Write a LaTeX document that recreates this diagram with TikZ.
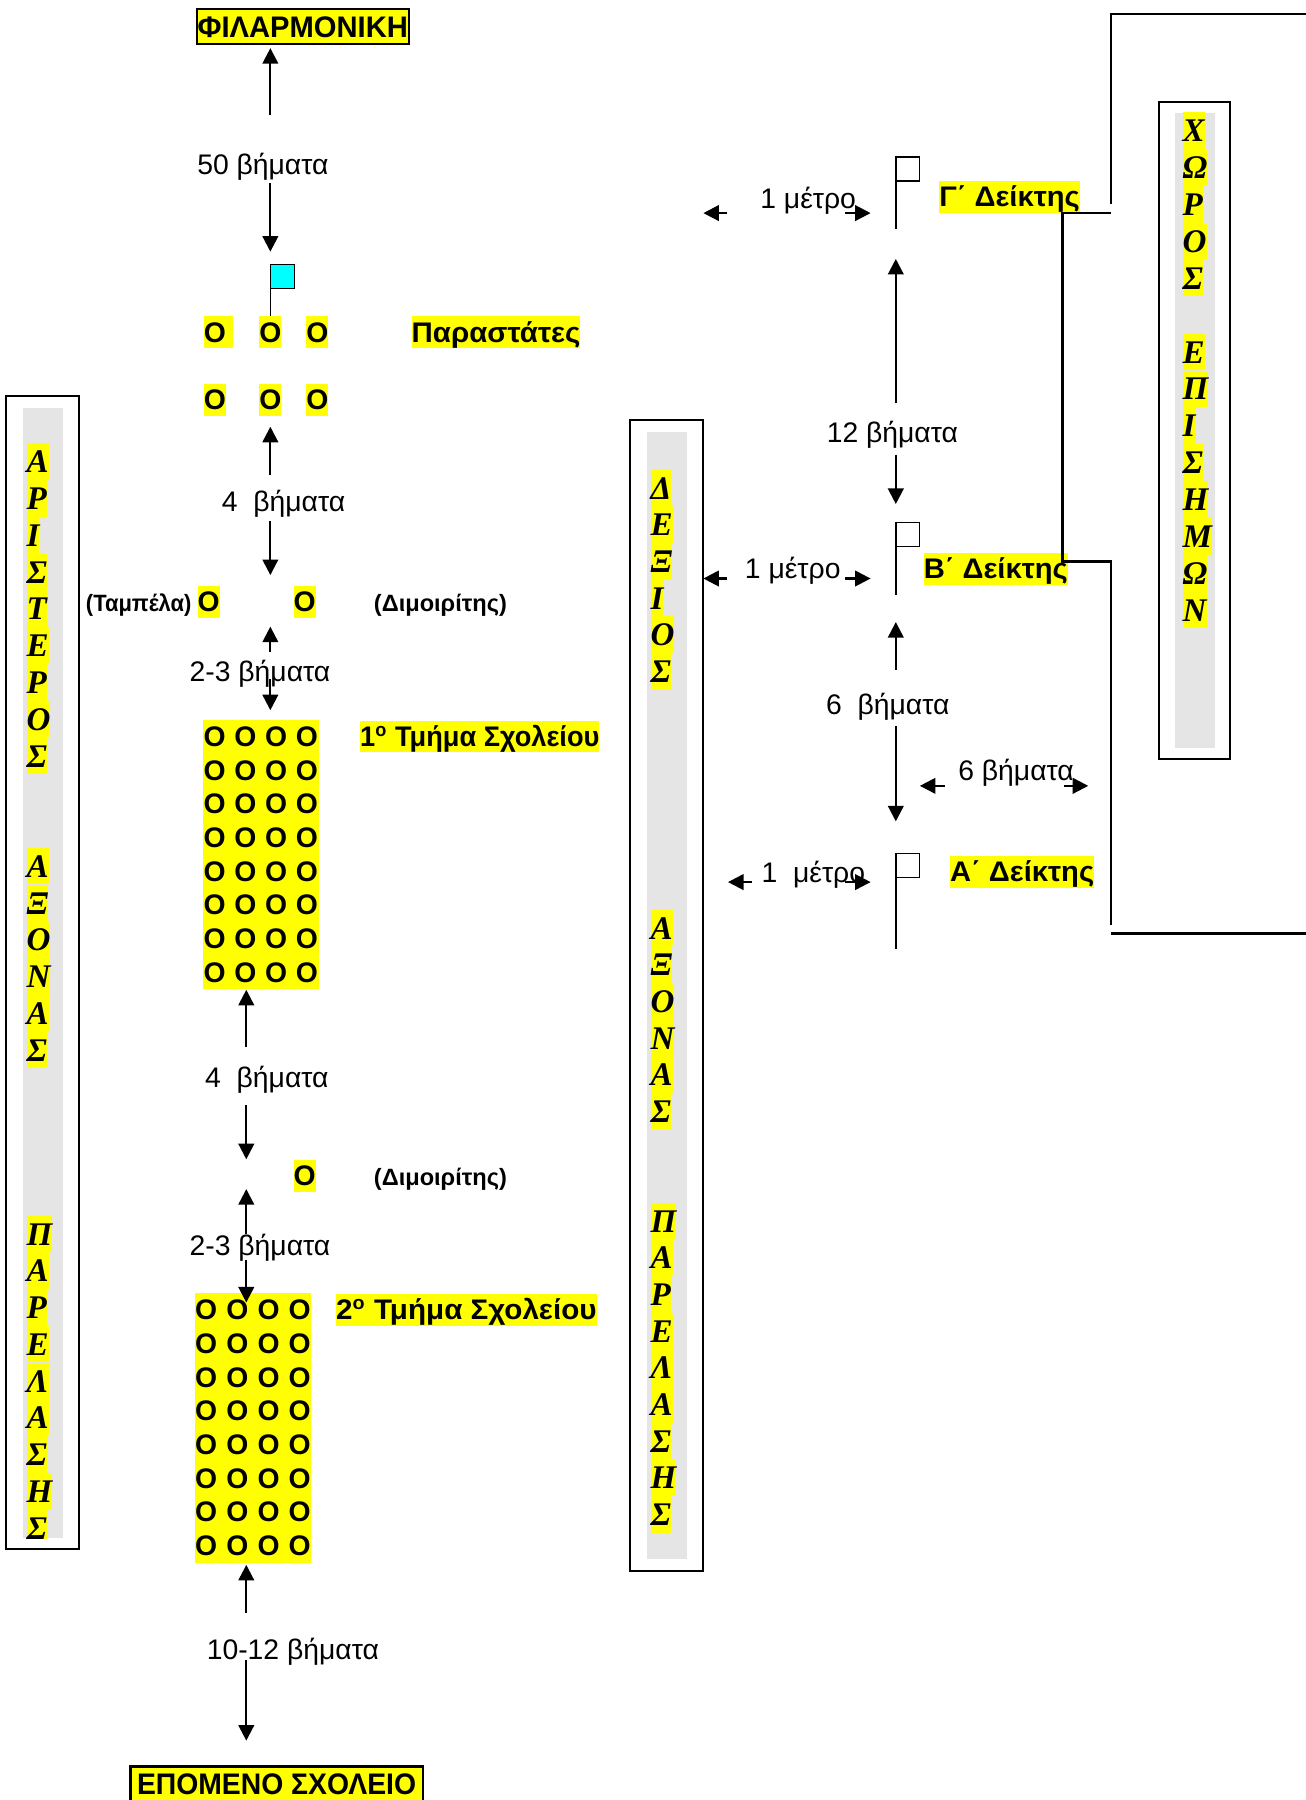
\documentclass[tikz,border=0pt]{standalone}
\usepackage{fontspec}
\usepackage{graphicx}
\setmainfont{Liberation Sans}
\newfontfamily\tmsfont{Liberation Serif}
\usetikzlibrary{arrows.meta}
\definecolor{hlyellow}{RGB}{255,255,0}
\definecolor{boxgray}{RGB}{229,229,229}
\definecolor{flagcyan}{RGB}{0,255,255}
\begin{document}
\begin{tikzpicture}[x=0.4854pt, y=-0.4854pt,
  txt/.style={inner sep=0pt, text height=10.9pt, text depth=2.5pt, font=\fontsize{12}{14}\selectfont},
  hl/.style={txt, fill=hlyellow, font=\fontsize{12}{14}\selectfont\bfseries},
  smalllbl/.style={inner sep=0pt, font=\fontsize{10}{12}\selectfont\bfseries},
  titlebox/.style={draw, line width=0.9pt, fill=hlyellow, inner sep=0pt, minimum height=14.9pt, font=\fontsize{12}{14}\selectfont\bfseries},
  ob/.style={inner sep=0pt, font=\fontsize{12}{14}\selectfont\bfseries},
  vl/.style={fill=hlyellow, inner sep=0pt, anchor=west, text height=12.47pt, text depth=3.02pt, font=\tmsfont\fontsize{14}{16}\selectfont\bfseries\itshape},
  arr/.style={line width=0.95pt, -{Triangle[length=6.6pt,width=6.6pt]}},
  wall/.style={line width=1.1pt},
  pole/.style={line width=0.6pt},
  flagsq/.style={draw, line width=0.6pt, fill=white},
  vbox/.style={draw, line width=0.8pt, fill=white},
  graycol/.style={fill=boxgray},
]
\useasboundingbox (0,0) rectangle (1140,1571.3);

% ---------- vertical boxes ----------
\draw[vbox] (5.5,345.7) rectangle (68.7,1352);
\fill[graycol] (20,356) rectangle (55,1342.6);
\begin{scope}
\clip (20,356) rectangle (55,1342.6);
\foreach \c [count=\i from 0] in {Α,Ρ,Ι,Σ,Τ,Ε,Ρ,Ο,Σ}
  \node[vl, name=la\i] at (22.8,403+\i*32.1) {\c};
\foreach \c [count=\i from 11] in {Α,Ξ,Ο,Ν,Α,Σ}
  \node[vl, name=la\i] at (22.8,403+\i*32.1) {\c};
\foreach \c [count=\i from 21] in {Π,Α,Ρ,Ε,Λ,Α,Σ,Η,Σ}
  \node[vl, name=la\i] at (22.8,403+\i*32.1) {\c};
\end{scope}

\draw[vbox] (550,367) rectangle (614,1371);
\fill[graycol] (564.5,377) rectangle (599.5,1361);
\foreach \c [count=\i from 0] in {Δ,Ε,Ξ,Ι,Ο,Σ}
  \node[vl, name=ma\i] at (567.5,426+\i*32) {\c};
\foreach \c [count=\i from 12] in {Α,Ξ,Ο,Ν,Α,Σ}
  \node[vl, name=ma\i] at (567.5,426+\i*32) {\c};
\foreach \c [count=\i from 20] in {Π,Α,Ρ,Ε,Λ,Α,Σ,Η,Σ}
  \node[vl, name=ma\i] at (567.5,426+\i*32) {\c};

\draw[vbox] (1012,89) rectangle (1074,662.6);
\fill[graycol] (1026,99) rectangle (1061,653);
\foreach \c [count=\i from 0] in {Χ,Ω,Ρ,Ο,Σ}
  \node[vl, name=ra\i] at (1032,114+\i*32.2) {\c};
\foreach \c [count=\i from 6] in {Ε,Π,Ι,Σ,Η,Μ,Ω,Ν}
  \node[vl, name=ra\i] at (1032,114+\i*32.2) {\c};

% ---------- left column ----------
\node[titlebox, minimum width=89.8pt] (fil) at (264.3,23.4) {\scalebox{1.03}[1.05]{ΦΙΛΑΡΜΟΝΙΚΗ}};
\coordinate (a1s) at (236,100.4); \coordinate (a1e) at (236,42);
\draw[arr] (a1s) -- (a1e);
\node[txt] (t50) at (229.5,144) {50 βήματα};
\coordinate (a2s) at (236,159.5); \coordinate (a2e) at (236,219.7);
\draw[arr] (a2s) -- (a2e);

% cyan flag
\coordinate (cpb) at (236,278); \coordinate (cpt) at (236,252);
\draw[pole] (cpt) -- (cpb);
\draw[flagsq, fill=flagcyan] (236,230.7) rectangle (257,252);

\node[hl, anchor=west] (p1) at (177.5,290) {O\kern3pt};
\node[hl, anchor=west] (p2) at (226,290) {O};
\node[hl, anchor=west] (p3) at (267,290) {O};
\node[hl, anchor=west] (par) at (359,290) {\scalebox{1.04}[1]{Παραστάτες}};

\node[hl, anchor=west] (q1) at (177.5,349) {O};
\node[hl, anchor=west] (q2) at (226,349) {O};
\node[hl, anchor=west] (q3) at (267,349) {O};

\coordinate (a3s) at (236,414.6); \coordinate (a3e) at (236,372.5);
\draw[arr] (a3s) -- (a3e);
\node[txt] (t4a) at (247.5,438) {4~~βήματα};
\coordinate (a4s) at (236,455); \coordinate (a4e) at (236,502);
\draw[arr] (a4s) -- (a4e);

\node[smalllbl, anchor=base east] (tab) at (167.5,534.2) {\scalebox{0.93}[1]{(Ταμπέλα)}};
\node[hl, anchor=base west] (d1) at (172,534.2) {O};
\node[hl, anchor=base west] (d2) at (256,534.2) {O};
\node[smalllbl, anchor=base west] (dim1) at (326,534.2) {(Διμοιρίτης)};

\coordinate (a5s) at (236,569); \coordinate (a5e) at (236,547);
\draw[arr] (a5s) -- (a5e);
\node[txt] (t23a) at (227,586) {2-3 βήματα};
\coordinate (a6s) at (236,593); \coordinate (a6e) at (236,620);
\draw[arr] (a6s) -- (a6e);

% block 1
\fill[hlyellow] (177.4,628.5) rectangle (278.5,863);
\foreach \r in {0,...,7}
  \foreach \x [count=\k] in {187.4,214.2,241,267.8}
    \node[ob, name=ba\r\k] at (\x,643+\r*29.43) {O};
\node[hl, anchor=west] (s1) at (314,643) {\scalebox{0.96}[1]{1\textsuperscript{o} Τμήμα Σχολείου}};

\coordinate (a7s) at (215,914); \coordinate (a7e) at (215,864);
\draw[arr] (a7s) -- (a7e);
\node[txt] (t4b) at (233,941) {4~~βήματα};
\coordinate (a8s) at (215,965); \coordinate (a8e) at (215,1012);
\draw[arr] (a8s) -- (a8e);

\node[hl, anchor=base west] (d3) at (256,1035.2) {O};
\node[smalllbl, anchor=base west] (dim2) at (326,1035.2) {(Διμοιρίτης)};

\coordinate (a9s) at (215,1077); \coordinate (a9e) at (215,1038);
\draw[arr] (a9s) -- (a9e);
\node[txt] (t23b) at (227,1087) {2-3 βήματα};
\coordinate (a10s) at (215,1100); \coordinate (a10e) at (215,1137);

% block 2
\fill[hlyellow] (170,1129) rectangle (271.6,1364.6);
\foreach \r in {0,...,7}
  \foreach \x [count=\k] in {180,207.2,234.4,261.6}
    \node[ob, name=bb\r\k] at (\x,1143.5+\r*29.43) {O};
\node[hl, anchor=west] (s2) at (293,1143.5) {\scalebox{1.045}[1]{2\textsuperscript{o} Τμήμα Σχολείου}};
\draw[arr] (a10s) -- (a10e);

\coordinate (a11s) at (215,1408); \coordinate (a11e) at (215,1366);
\draw[arr] (a11s) -- (a11e);
\node[txt] (t1012) at (255.7,1440) {10-12 βήματα};
\coordinate (a12s) at (215,1449); \coordinate (a12e) at (215,1519.5);
\draw[arr] (a12s) -- (a12e);
\node[titlebox, minimum width=123.8pt] (next) at (241.4,1557.4) {\scalebox{1.0}[1.05]{ΕΠΟΜΕΝΟ ΣΧΟΛΕΙΟ}};

% ---------- right column ----------
% Gamma marker
\coordinate (gpt) at (782,137); \coordinate (gpb) at (782,200);
\draw[pole] (gpt) -- (gpb);
\draw[flagsq] (782,137) rectangle (802.5,158);
\node[txt] (t1mG) at (705.5,173) {1 μέτρο};
\coordinate (gls) at (635,186); \coordinate (gle) at (614,186);
\coordinate (grs) at (738,186); \coordinate (gre) at (760,186);
\draw[arr] (gls) -- (gle);
\draw[arr] (grs) -- (gre);
\node[hl, anchor=west] (gd) at (819.5,172) {\scalebox{1.03}[1]{Γ΄ Δείκτης}};

\coordinate (b12s) at (782,352); \coordinate (b12e) at (782,226);
\draw[arr] (b12s) -- (b12e);
\node[txt] (t12) at (779,378) {12 βήματα};
\coordinate (c12s) at (782,397); \coordinate (c12e) at (782,440);
\draw[arr] (c12s) -- (c12e);

% Beta marker
\coordinate (bpt) at (782,456); \coordinate (bpb) at (782,519);
\draw[pole] (bpt) -- (bpb);
\draw[flagsq] (782,456) rectangle (802.5,477);
\node[txt] (t1mB) at (692,496) {1 μέτρο};
\coordinate (bls) at (635,505); \coordinate (ble) at (614,505);
\coordinate (brs) at (738,505); \coordinate (bre) at (760,505);
\draw[arr] (bls) -- (ble);
\draw[arr] (brs) -- (bre);
\node[hl, anchor=west] (bd) at (806,496.5) {\scalebox{1.03}[1]{Β΄ Δείκτης}};

\coordinate (b6s) at (782,585); \coordinate (b6e) at (782,543);
\draw[arr] (b6s) -- (b6e);
\node[txt] (t6a) at (775,615) {6~~βήματα};
\coordinate (c6s) at (782,634); \coordinate (c6e) at (782,717);
\draw[arr] (c6s) -- (c6e);

\node[txt] (t6b) at (887,673) {6 βήματα};
\coordinate (hls) at (825,686); \coordinate (hle) at (803,686);
\coordinate (hrs) at (929,686); \coordinate (hre) at (950,686);
\draw[arr] (hls) -- (hle);
\draw[arr] (hrs) -- (hre);

% Alpha marker
\coordinate (apt) at (782,745); \coordinate (apb) at (782,828);
\draw[pole] (apt) -- (apb);
\draw[flagsq] (782,745) rectangle (802.5,766);
\node[txt] (t1mA) at (710,762) {1~~μέτρο};
\coordinate (als) at (656.5,770); \coordinate (ale) at (635.5,770);
\coordinate (ars) at (738,770); \coordinate (are) at (760,770);
\draw[arr] (als) -- (ale);
\draw[arr] (ars) -- (are);
\node[hl, anchor=west] (ad) at (829,761) {\scalebox{1.03}[1]{Α΄ Δείκτης}};

% thick boundary lines
\coordinate (w1) at (1140,12.2); \coordinate (w2) at (970,12.2); \coordinate (w3) at (970,178);
\draw[wall] (w1) -- (w2) -- (w3);
\coordinate (w4) at (970,186); \coordinate (w5) at (927.5,186);
\coordinate (w6) at (927.5,490); \coordinate (w7) at (970,490); \coordinate (w8) at (970,807.5);
\draw[wall] (w4) -- (w5) -- (w6) -- (w7) -- (w8);
\coordinate (w9) at (970,815); \coordinate (w10) at (1140,815);
\draw[wall] (w9) -- (w10);
\end{tikzpicture}
\end{document}
